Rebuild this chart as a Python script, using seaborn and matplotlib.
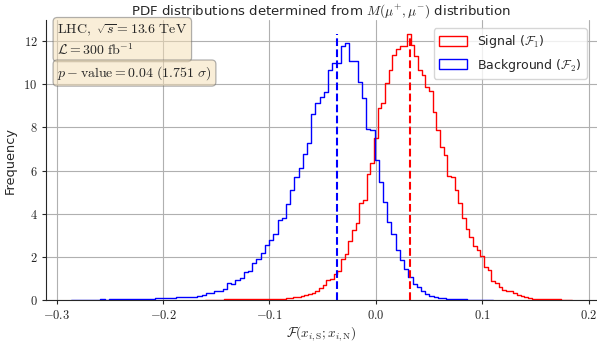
import numpy as np
import pandas as pd
import matplotlib
matplotlib.use("Agg")
import matplotlib.pyplot as plt
from matplotlib.patches import Patch
from matplotlib.ticker import FuncFormatter
import seaborn as sns

# ---- data (bin heights) ----
signal_range = (-0.1602, 0.1843)      # 100 bins
background_range = (-0.2867, 0.1098)  # 100 bins

signal_heights = [
    0.03, 0.03, 0.04, 0.04, 0.04, 0.05, 0.05, 0.05, 0.05, 0.06,
    0.06, 0.06, 0.06, 0.07, 0.07, 0.07, 0.07, 0.08, 0.08, 0.08,
    0.09, 0.09, 0.10, 0.12, 0.14, 0.15, 0.20, 0.25, 0.30, 0.34,
    0.46, 0.59, 0.70, 0.93, 1.00, 1.23, 1.36, 1.93, 2.13, 2.75,
    3.27, 3.58, 4.48, 4.66, 5.86, 6.36, 7.48, 8.87, 9.10, 10.03,
    10.62, 11.34, 11.60, 11.76, 11.76, 12.31, 11.80, 11.30, 10.65, 10.42,
    9.85, 9.65, 8.72, 7.87, 7.07, 6.71, 5.75, 5.68, 5.09, 4.48,
    3.81, 3.32, 2.93, 2.50, 2.35, 2.04, 1.54, 1.39, 0.88, 0.80,
    0.62, 0.49, 0.46, 0.44, 0.35, 0.27, 0.23, 0.15, 0.12, 0.09,
    0.08, 0.07, 0.07, 0.06, 0.06, 0.05, 0.05, 0.04, 0.04, 0.03,
]

background_heights = [
    0.03, 0.03, 0.04, 0.03, 0.04, 0.04, 0.04, 0.05, 0.04, 0.05,
    0.05, 0.05, 0.06, 0.06, 0.06, 0.07, 0.07, 0.08, 0.08, 0.09,
    0.10, 0.10, 0.11, 0.12, 0.13, 0.14, 0.15, 0.16, 0.16, 0.18,
    0.19, 0.26, 0.34, 0.34, 0.46, 0.46, 0.54, 0.80, 0.77, 0.93,
    1.05, 1.31, 1.34, 1.73, 1.93, 2.19, 2.55, 2.78, 3.06, 3.73,
    3.83, 4.44, 5.09, 5.71, 6.10, 6.76, 7.28, 8.60, 9.10, 9.38,
    9.61, 10.65, 10.96, 10.96, 11.77, 11.88, 11.06, 11.06, 10.08, 9.34,
    7.92, 7.87, 6.48, 5.48, 4.55, 3.63, 3.09, 2.35, 1.88, 1.47,
    1.08, 0.77, 0.62, 0.46, 0.31, 0.22, 0.18, 0.13, 0.10, 0.08,
    0.07, 0.06, 0.05, 0.05, 0.04, 0.04, 0.03, 0.03, 0.02, 0.02,
]

signal_mean = 0.0318
background_mean = -0.0368

labels = [r"Signal ($\mathcal{F}_1$)", r"Background ($\mathcal{F}_2$)"]
title = r"PDF distributions determined from $M(\mu^{+},\mu^{-})$ distribution"
info_text = "$\\mathrm{LHC},\\ \\sqrt{s}=13.6\\ \\mathrm{TeV}$\n$\\mathcal{L}=300\\ \\mathrm{fb}^{-1}$"
pval_text = r"$p-\mathrm{value}=0.04\ (1.751\ \sigma)$"

# ---- plot ----
sns.set_style("ticks")
plt.rcParams["font.family"] = ["DejaVu Sans"]
plt.rcParams["mathtext.fontset"] = "cm"

fig, ax = plt.subplots(figsize=(5.97, 3.45), dpi=100)
fig.subplots_adjust(left=0.0766, right=1.0, top=0.9406, bottom=0.129)

def draw(heights, rng, color):
    n = len(heights)
    edges = np.linspace(rng[0], rng[1], n + 1)
    centers = 0.5 * (edges[:-1] + edges[1:])
    df = pd.DataFrame({"x": centers, "w": heights})
    sns.histplot(data=df, x="x", weights="w", bins=n, binrange=rng,
                 element="step", fill=False, color=color, linewidth=1.0, ax=ax)

draw(signal_heights, signal_range, "red")
draw(background_heights, background_range, "blue")

top = max(max(signal_heights), max(background_heights))
ax.vlines(signal_mean, 0, top, colors="red", linestyles="--", linewidth=1.5, zorder=3)
ax.vlines(background_mean, 0, top, colors="blue", linestyles="--", linewidth=1.5, zorder=3)

for art in list(ax.lines) + list(ax.patches):
    art.set_zorder(3)

ax.set_ylim(bottom=0)
ax.grid(True, color="#b0b0b0", linewidth=0.8)
ax.set_axisbelow(True)
sns.despine(ax=ax)

ax.xaxis.set_major_formatter(FuncFormatter(lambda v, p: f"${v:.1f}$"))
ax.yaxis.set_major_formatter(FuncFormatter(lambda v, p: f"${v:g}$"))
ax.tick_params(labelsize=9, length=3.0, pad=3.0)

ax.set_title(title, fontsize=9.6, pad=2.5)
ax.set_ylabel("Frequency", fontsize=9.3, labelpad=4.5)
ax.set_xlabel(r"$\mathcal{F}(x_{i,\mathrm{S}};x_{i,\mathrm{N}})$", fontsize=9.6,
              labelpad=1.5)

box = dict(boxstyle="round", facecolor="wheat", edgecolor="0.4",
           linewidth=0.9, alpha=0.5)
ax.text(0.0209, 0.99, info_text, transform=ax.transAxes, fontsize=10,
        va="top", ha="left", bbox=box, zorder=5)
ax.text(0.0209, 0.844, pval_text, transform=ax.transAxes, fontsize=10,
        va="top", ha="left", bbox=box, zorder=5)

handles = [Patch(facecolor="none", edgecolor="red"),
           Patch(facecolor="none", edgecolor="blue")]
ax.legend(handles, labels, loc="upper right", fontsize=9,
          handlelength=2.3, handleheight=0.85, borderaxespad=0.0,
          bbox_to_anchor=(0.9813, 0.972))

fig.savefig("out.png", dpi=100)
